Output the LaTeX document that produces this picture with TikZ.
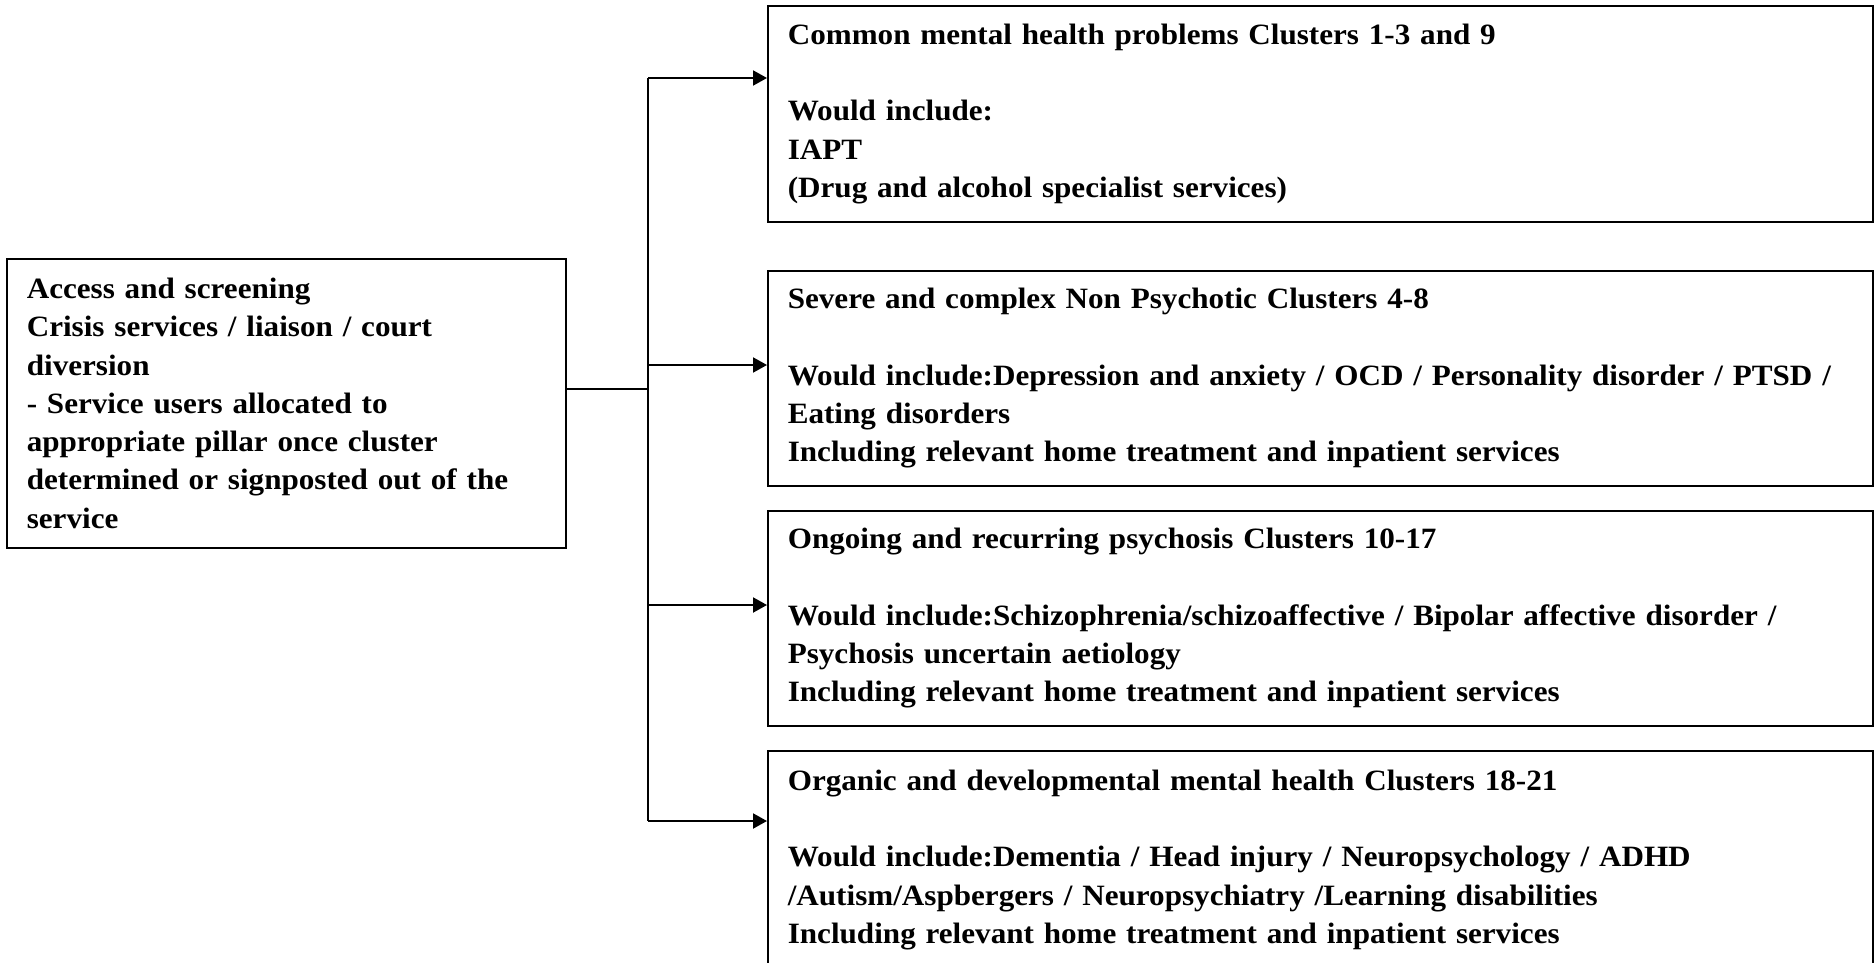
\documentclass[tikz,border=0pt]{standalone}
\usepackage{fontspec}
\setmainfont{Liberation Serif}[FakeStretch=1.055]
\usetikzlibrary{arrows.meta}
\begin{document}
\begin{tikzpicture}[x=1pt,y=-1pt,
  box/.style={draw, line width=1.6pt, anchor=north west, inner xsep=20pt, inner ysep=0pt,
    align=left, font=\bfseries\fontsize{29.5}{38.3}\selectfont},
  link/.style={line width=2pt},
  arr/.style={line width=2pt, -{Triangle[length=14pt,width=15pt]}}]
\useasboundingbox (0,0) rectangle (1876,963);

% entry box on the left
\node[box, text width=519pt, minimum width=559pt, minimum height=289pt] (access) at (6,258)
  {Access and screening\\
   Crisis services / liaison / court\\
   diversion\\
   - Service users allocated to\\
   appropriate pillar once cluster\\
   determined or signposted out of the\\
   service};

% the four pillars
\node[box, text width=1065pt, minimum width=1105pt, minimum height=216pt] (p1) at (767,5)
  {Common mental health problems Clusters 1-3 and 9\\[\baselineskip]
   Would include:\\
   IAPT\\
   (Drug and alcohol specialist services)};
\node[box, text width=1065pt, minimum width=1105pt, minimum height=215pt] (p2) at (767,270)
  {Severe and complex Non Psychotic Clusters 4-8\\[\baselineskip]
   Would include:Depression and anxiety / OCD / Personality disorder / PTSD /\\
   Eating disorders\\
   Including relevant home treatment and inpatient services};
\node[box, text width=1065pt, minimum width=1105pt, minimum height=215pt] (p3) at (767,510)
  {Ongoing and recurring psychosis Clusters 10-17\\[\baselineskip]
   Would include:Schizophrenia/schizoaffective / Bipolar affective disorder /\\
   Psychosis uncertain aetiology\\
   Including relevant home treatment and inpatient services};
\node[box, text width=1065pt, minimum width=1105pt, minimum height=218pt] (p4) at (767,750)
  {Organic and developmental mental health Clusters 18-21\\[\baselineskip]
   Would include:Dementia / Head injury / Neuropsychology / ADHD\\
   /Autism/Aspbergers / Neuropsychiatry /Learning disabilities\\
   Including relevant home treatment and inpatient services};

% branching connector
\coordinate (jm) at (648,389);
\coordinate (j1) at (648,78);
\coordinate (j2) at (648,365);
\coordinate (j3) at (648,605);
\coordinate (j4) at (648,821);
\draw[link] (jm -| access.east) -- (jm);
\draw[link] (j1) -- (j4);
\draw[arr] (j1) -- (j1 -| p1.west);
\draw[arr] (j2) -- (j2 -| p2.west);
\draw[arr] (j3) -- (j3 -| p3.west);
\draw[arr] (j4) -- (j4 -| p4.west);
\end{tikzpicture}
\end{document}
